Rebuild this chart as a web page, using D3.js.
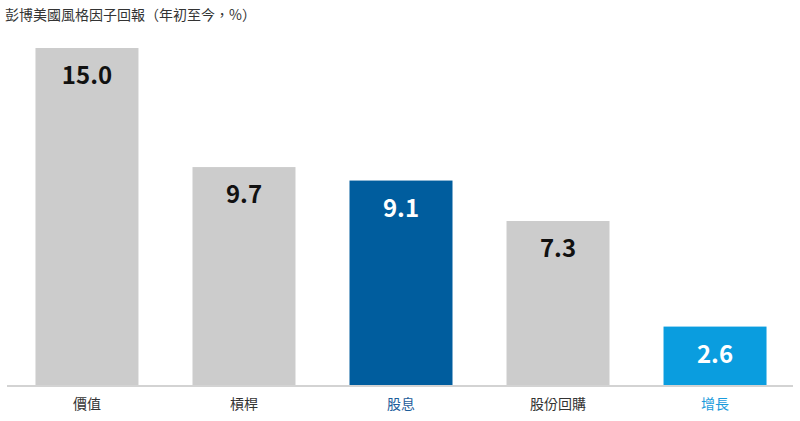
<!DOCTYPE html>
<html><head><meta charset="utf-8">
<script src="https://cdn.jsdelivr.net/npm/d3@7"></script>
<style>body{margin:0;background:#fff;}svg{display:block;}</style>
</head><body>
<svg id="c" width="800" height="421"></svg>
<script>
const categories = ["價值", "槓桿", "股息", "股份回購", "增長"];
const values = [15.0, 9.7, 9.1, 7.3, 2.6];
const barColors = ["#cccccc", "#cccccc", "#005d9e", "#cccccc", "#0a9ddf"];
const labelColors = ["#333333", "#333333", "#1d5d9b", "#333333", "#1a9bdc"];
const valueColors = ["#111111", "#111111", "#ffffff", "#111111", "#ffffff"];
const title = "彭博美國風格因子回報（年初至今，%）";

const svg = d3.select("#c");
const font = "'Noto Sans CJK TC', 'Noto Sans', sans-serif";
const baseY = 385;
const x = d3.scaleBand().domain(categories).range([8, 794]).paddingInner(0.344).paddingOuter(0.175);
const y = d3.scaleLinear().domain([0, 15]).range([baseY, 48]);

svg.append("text").attr("x", 5).attr("y", 20).attr("font-family", font)
  .attr("font-size", 14).attr("fill", "#333").text(title);

svg.selectAll("rect.bar").data(values).enter().append("rect")
  .attr("x", (d, i) => x(categories[i])).attr("width", x.bandwidth())
  .attr("y", d => y(d)).attr("height", d => baseY - y(d))
  .attr("fill", (d, i) => barColors[i]);

svg.append("line").attr("x1", 7).attr("x2", 793).attr("y1", baseY + 1).attr("y2", baseY + 1)
  .attr("stroke", "#d3d3d3").attr("stroke-width", 2);

svg.selectAll("text.val").data(values).enter().append("text")
  .attr("x", (d, i) => x(categories[i]) + x.bandwidth() / 2)
  .attr("y", d => y(d) + 36).attr("text-anchor", "middle")
  .attr("font-family", font).attr("font-weight", "bold").attr("font-size", 24)
  .attr("fill", (d, i) => valueColors[i]).text(d => d.toFixed(1));

svg.selectAll("text.cat").data(categories).enter().append("text")
  .attr("x", d => x(d) + x.bandwidth() / 2).attr("y", 409).attr("text-anchor", "middle")
  .attr("font-family", font).attr("font-size", 14)
  .attr("fill", (d, i) => labelColors[i]).text(d => d);
</script>
</body></html>
